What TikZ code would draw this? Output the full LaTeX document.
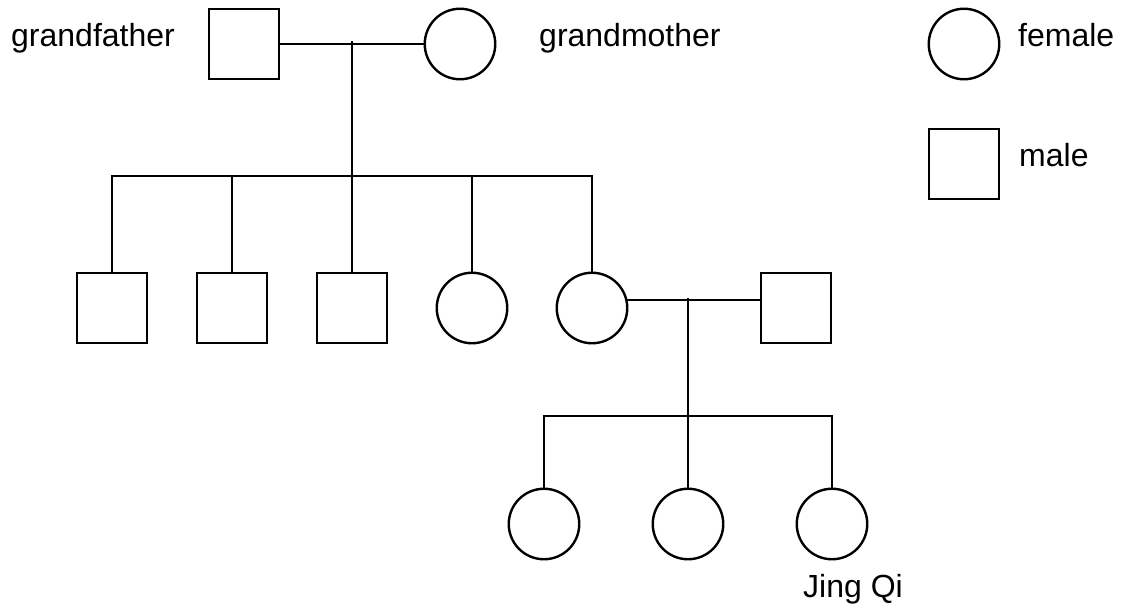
\documentclass[tikz,border=0pt]{standalone}
\usepackage{fontspec}
\setmainfont{Liberation Sans}
\begin{document}
\begin{tikzpicture}[x=1pt,y=-1pt,line width=2.4pt,
  male/.style={draw,rectangle,minimum size=70.5pt,inner sep=0pt,outer sep=0pt},
  female/.style={draw,circle,minimum size=70.5pt,inner sep=0pt,outer sep=0pt},
  lbl/.style={font=\fontsize{32}{38}\selectfont,inner sep=0pt,anchor=base west}]
\useasboundingbox (0,0) rectangle (1123,610);
% generation 1
\node[male] (gf) at (244,44) {};
\node[female] (gm) at (460,44) {};
\node[lbl] (tgf) at (10,47) {grandfather};
\node[lbl] (tgm) at (538,47) {grandmother};
% generation 2
\node[male] (c1) at (112,308) {};
\node[male] (c2) at (232,308) {};
\node[male] (c3) at (352,308) {};
\node[female] (c4) at (472,308) {};
\node[female] (c5) at (592,308) {};
\node[male] (sp) at (796,308) {};
% generation 3
\node[female] (g1) at (544,524) {};
\node[female] (g2) at (688,524) {};
\node[female] (g3) at (832,524) {};
\node[lbl] (tjq) at (802,597) {Jing Qi};
% legend
\node[female] (lf) at (964,44) {};
\node[male] (lm) at (964,164) {};
\node[lbl] (tf) at (1017,46) {female};
\node[lbl] (tm) at (1018,166) {male};
% connectors
\coordinate (m1) at (352,41.5);
\coordinate (b1) at (352,176);
\coordinate (m2) at (688,298);
\coordinate (b2) at (688,416);
\draw (gf.east) -- (gm.west);
\draw (m1) -- (b1);
\draw (c1.north) -- (c1.north |- b1) -- (c5.north |- b1) -- (c5.north);
\draw (c2.north) -- (c2.north |- b1);
\draw (c3.north) -- (b1);
\draw (c4.north) -- (c4.north |- b1);
\draw (c5.13) -- (sp.west |- c5.13);
\draw (m2) -- (b2);
\draw (g1.north) -- (g1.north |- b2) -- (g3.north |- b2) -- (g3.north);
\draw (g2.north) -- (b2);
\end{tikzpicture}
\end{document}
